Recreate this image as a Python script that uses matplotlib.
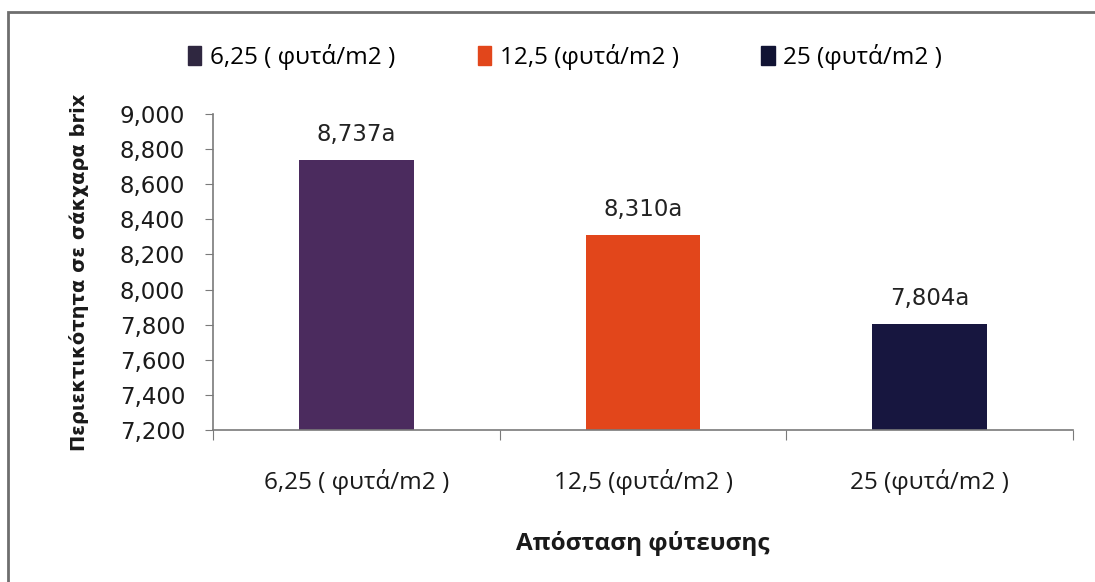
import matplotlib
matplotlib.use('Agg')
import matplotlib.pyplot as plt
from matplotlib.patches import Rectangle, Patch
from matplotlib.ticker import FixedLocator, FuncFormatter

# πυκνότητα φύτευσης και περιεκτικότητα σε σάκχαρα (brix)
katigories = ['6,25 ( φυτά/m2 )', '12,5 (φυτά/m2 )', '25 (φυτά/m2 )']
brix = [8.737, 8.310, 7.804]
grammata = ['a', 'a', 'a']
xromata = ['#4b2b5e', '#e2461b', '#17163f']
xromata_leg = ['#2f2740', '#e2461b', '#111333']

y_ticks = [7.2, 7.4, 7.6, 7.8, 8.0, 8.2, 8.4, 8.6, 8.8, 9.0]

narrow = ['Open Sans', 'DejaVu Sans']


def komma(v, pos=None):
    return ('%.3f' % v).replace('.', ',')


fig = plt.figure(figsize=(10.95, 5.82), dpi=100)
ax = fig.add_axes([213 / 1095, 1 - 430 / 582, 860 / 1095, 316 / 582])

# πλαίσιο γύρω από το γράφημα
fig.patches.append(Rectangle((8 / 1095, -0.05), 1.0, 1 - 12 / 582 + 0.05,
                             transform=fig.transFigure, fill=False,
                             edgecolor='#6e6e6e', linewidth=2))

thesi = [i + 0.5 for i in range(len(brix))]
bars = ax.bar(thesi, [b - y_ticks[0] for b in brix], bottom=y_ticks[0],
              width=0.4, color=xromata)

for x, b, g in zip(thesi, brix, grammata):
    ax.text(x, b + 0.08, komma(b) + g, ha='center', va='bottom',
            fontsize=16.5, color='#222222')

ax.set_xlim(0, 3)
ax.set_ylim(y_ticks[0], y_ticks[-1])
ax.yaxis.set_major_locator(FixedLocator(y_ticks))
ax.yaxis.set_major_formatter(FuncFormatter(komma))
ax.set_xticks([0, 1, 2, 3])
ax.set_xticklabels([])
ax.set_xticks(thesi, minor=True)
ax.set_xticklabels(katigories, minor=True, fontsize=17.5, family=narrow,
                   color='#1a1a1a')
ax.tick_params(axis='x', which='major', length=7, color='#7a7a7a')
ax.tick_params(axis='x', which='minor', length=0, pad=28)
ax.tick_params(axis='y', length=6, color='#7a7a7a', labelsize=16.5,
               labelcolor='#1a1a1a', pad=14)

for s in ['top', 'right']:
    ax.spines[s].set_visible(False)
for s in ['left', 'bottom']:
    ax.spines[s].set_color('#7a7a7a')
    ax.spines[s].set_linewidth(1.2)

ax.set_xlabel('Απόσταση φύτευσης', fontsize=17.5, fontweight='bold',
              family=narrow, labelpad=26, color='#1a1a1a')
ax.set_ylabel('Περιεκτικότητα σε σάκχαρα brix', fontsize=14,
              fontweight='bold', labelpad=22, color='#1a1a1a')

handles = [Patch(color=c, label=k) for c, k in zip(xromata_leg, katigories)]
leg = fig.legend(handles=handles, loc='center', ncol=3,
                 bbox_to_anchor=(565 / 1095, 1 - 57 / 582), frameon=False,
                 prop={'family': narrow, 'size': 17.5}, handlelength=0.55,
                 handleheight=0.85, handletextpad=0.35, columnspacing=3.4)

fig.savefig('out.png', dpi=100)
